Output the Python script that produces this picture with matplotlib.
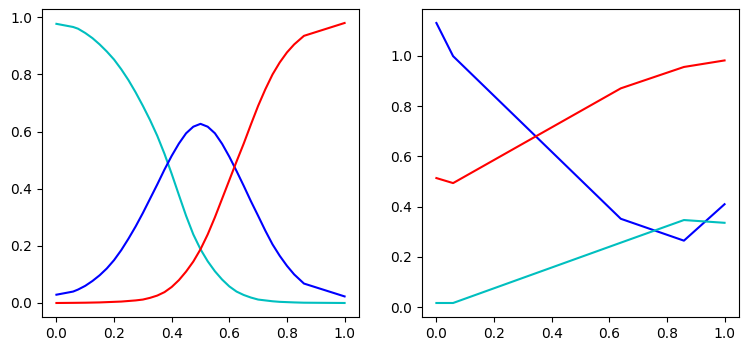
import numpy as np
import matplotlib
matplotlib.use("Agg")
import matplotlib.pyplot as plt

# left panel: smooth class curves
x_left = [0, 0.058, 0.075, 0.1, 0.125, 0.15, 0.175, 0.2, 0.225, 0.25, 0.275,
          0.3, 0.325, 0.35, 0.375, 0.4, 0.425, 0.45, 0.475, 0.5, 0.525,
          0.55, 0.575, 0.6, 0.625, 0.65, 0.675, 0.7, 0.725, 0.75, 0.775,
          0.8, 0.825, 0.859, 1.0]
cyan_left = [0.977, 0.966, 0.960, 0.945, 0.927, 0.905, 0.880, 0.852, 0.818, 0.78, 0.737,
             0.69, 0.64, 0.585, 0.522, 0.452, 0.378, 0.305, 0.24, 0.188, 0.146,
             0.111, 0.082, 0.058, 0.040, 0.028, 0.019, 0.012, 0.009, 0.006, 0.004,
             0.003, 0.002, 0.001, 0.0]
blue_left = [0.029, 0.040, 0.047, 0.060, 0.077, 0.097, 0.121, 0.150, 0.185, 0.225, 0.268,
             0.315, 0.365, 0.415, 0.467, 0.515, 0.558, 0.594, 0.617, 0.627, 0.617,
             0.594, 0.557, 0.512, 0.462, 0.41, 0.356, 0.305, 0.253, 0.205, 0.165,
             0.13, 0.100, 0.068, 0.023]
red_left = [0.0, 0.0005, 0.0007, 0.001, 0.0015, 0.002, 0.003, 0.004, 0.005, 0.007, 0.009,
            0.012, 0.018, 0.026, 0.038, 0.056, 0.08, 0.11, 0.145, 0.188, 0.24,
            0.30, 0.365, 0.43, 0.495, 0.558, 0.625, 0.69, 0.748, 0.80, 0.842,
            0.877, 0.905, 0.935, 0.98]

# right panel: piecewise lines
x_right = [0, 0.058, 0.64, 0.859, 1.0]
blue_right = [1.131, 0.999, 0.352, 0.265, 0.410]
red_right = [0.514, 0.494, 0.871, 0.956, 0.982]
cyan_right = [0.017, 0.017, 0.257, 0.347, 0.336]

fig = plt.figure(figsize=(7.49, 3.51), dpi=100)
ax1 = fig.add_axes([0.0561, 0.0969, 0.4232, 0.8775])
ax2 = fig.add_axes([0.5634, 0.0969, 0.4232, 0.8775])

ax1.plot(x_left, cyan_left, 'c')
ax1.plot(x_left, blue_left, 'b')
ax1.plot(x_left, red_left, 'r')

ax2.plot(x_right, blue_right, 'b')
ax2.plot(x_right, red_right, 'r')
ax2.plot(x_right, cyan_right, 'c')

fig.savefig("out.png", dpi=100)
